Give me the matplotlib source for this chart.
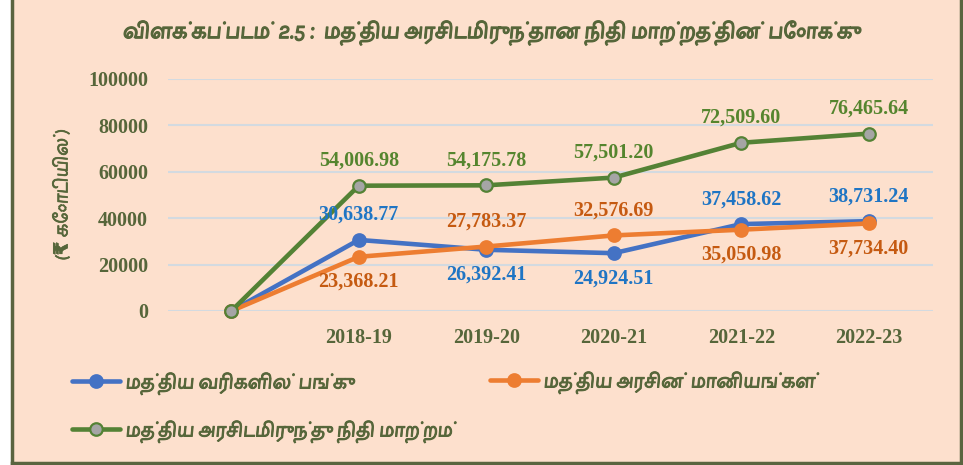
import matplotlib
matplotlib.use("Agg")
import matplotlib.pyplot as plt
from matplotlib import font_manager as fm
from matplotlib import patheffects as pe
from matplotlib.ft2font import FT2Font
from matplotlib.lines import Line2D

categories = ["", "2018-19", "2019-20", "2020-21", "2021-22", "2022-23"]
tax_share = [0, 30638.77, 26392.41, 24924.51, 37458.62, 38731.24]
grants = [0, 23368.21, 27783.37, 32576.69, 35050.98, 37734.40]
transfers = [0, 54006.98, 54175.78, 57501.20, 72509.60, 76465.64]
tax_pos = [None, "above", "below", "below", "above", "above"]
grant_pos = [None, "below", "above", "above", "below", "below"]
transfer_pos = [None, "above", "above", "above", "above", "above"]
yticks = [0, 20000, 40000, 60000, 80000, 100000]

title = "விளக்கப்படம் 2.5 :  மத்திய அரசிடமிருந்தான நிதி மாற்றத்தின் போக்கு"
ylabel = "(₹ கோடியில்)"
lab_tax = "மத்திய வரிகளில் பங்கு"
lab_grant = "மத்திய அரசின் மானியங்கள்"
lab_transfer = "மத்திய அரசிடமிருந்து நிதி மாற்றம்"


def find_tamil_font():
    cands = {}
    for f in fm.fontManager.ttflist:
        try:
            if ord("த") not in FT2Font(f.fname).get_charmap():
                continue
        except Exception:
            continue
        info = cands.setdefault(f.name, {"bold": False})
        if f.weight in ("bold", "heavy") or (isinstance(f.weight, int) and f.weight >= 600):
            info["bold"] = True
    best, best_score = None, -1e9
    for name, info in cands.items():
        score = 0
        if "Tamil" in name:
            score += 10
        if "Mono" in name or "Code" in name:
            score -= 20
        if "Sans" in name:
            score += 2
        if info["bold"]:
            score += 3
        if score > best_score:
            best, best_score = name, score
    return best


tamil = find_tamil_font()
fam = ([tamil] if tamil else []) + ["DejaVu Sans"]
serif = ["Liberation Serif", "DejaVu Serif"]

BG = "#FDE0CD"
OLIVE = "#56663A"
BLUE = "#4472C4"
ORANGE = "#ED7D31"
GREEN = "#548235"
GREY = "#A5A5A5"

fig = plt.figure(figsize=(9.63, 4.65), dpi=100, facecolor="white")
W, H = 963, 465
bg = plt.Rectangle((11 / W, 0), (961 - 11) / W, 1.0, transform=fig.transFigure,
                   facecolor=BG, edgecolor="none", zorder=-10)
fig.patches.append(bg)
for xs, ys in [([11.5 / W, 11.5 / W], [0, 1]), ([961 / W, 961 / W], [0, 1]),
               ([11.5 / W, 961 / W], [2.5 / H, 2.5 / H])]:
    fig.lines.append(Line2D(xs, ys, transform=fig.transFigure, color="#5A6440", lw=2.5))

ax = fig.add_axes([167.5 / W, 1 - 311 / H, (932.5 - 167.5) / W, (311 - 79) / H])
ax.set_facecolor("none")
x = list(range(len(categories)))

series = [
    (tax_share, BLUE, BLUE, BLUE, "#1F75C4", tax_pos, lab_tax, 3),
    (grants, ORANGE, ORANGE, ORANGE, "#C55A11", grant_pos, lab_grant, 4),
    (transfers, GREEN, GREY, GREEN, "#55852E", transfer_pos, lab_transfer, 5),
]
handles = []
for vals, lc, mfc, mec, tc, pos, lab, z in series:
    ln, = ax.plot(x, vals, color=lc, lw=3.3, marker="o", ms=9, mfc=mfc, mec=mec,
                  mew=1.6, zorder=z, clip_on=False, label=lab, solid_capstyle="round")
    handles.append(ln)
    for xi, v, p in zip(x, vals, pos):
        if p is None:
            continue
        off = 25 if p == "above" else -25
        ax.annotate(f"{v:,.2f}", (xi, v), xytext=(0, off), textcoords="offset pixels",
                    ha="center", va="center", color=tc, fontsize=14.5,
                    fontweight="bold", family=serif, zorder=10)

ax.set_xlim(-0.5, 5.5)
ax.set_ylim(0, 100000)
ax.set_yticks(yticks)
ax.set_yticklabels([str(t) for t in yticks])
ax.set_xticks(x)
ax.set_xticklabels(categories)
ax.tick_params(length=0, labelcolor=OLIVE)
ax.tick_params(axis="y", pad=14)
ax.tick_params(axis="x", pad=12)
for lbl in ax.get_xticklabels() + ax.get_yticklabels():
    lbl.set_fontfamily(serif)
    lbl.set_fontweight("bold")
    lbl.set_fontsize(14.5)
for s in ax.spines.values():
    s.set_visible(False)
ax.grid(axis="y", color="#D3DAE0", lw=1.5, zorder=0)
ax.set_axisbelow(True)

fig.text(492 / W, 1 - 33 / H, title, ha="center", va="center", fontsize=16,
         fontweight="bold", color=OLIVE, family=fam,
         path_effects=[pe.withStroke(linewidth=0.9, foreground=OLIVE)])
fig.text(62 / W, 1 - 195 / H, ylabel, ha="center", va="center", rotation=90,
         fontsize=14, fontweight="bold", color=OLIVE, family=fam,
         path_effects=[pe.withStroke(linewidth=0.5, foreground=OLIVE)])

leg_kw = dict(frameon=False, handlelength=2.4, handletextpad=0.25, labelspacing=1.3,
              prop={"family": fam, "size": 14.5, "weight": "bold"}, labelcolor=OLIVE,
              loc="center left", borderaxespad=0, borderpad=0)
l1 = fig.legend([handles[0], handles[2]], [lab_tax, lab_transfer],
                bbox_to_anchor=(72 / W, 1 - 408 / H), **leg_kw)
l2 = fig.legend([handles[1]], [lab_grant], bbox_to_anchor=(490 / W, 1 - 383 / H), **leg_kw)
for leg in (l1, l2):
    for t in leg.get_texts():
        t.set_path_effects([pe.withStroke(linewidth=0.7, foreground=OLIVE)])

fig.savefig("out.png", dpi=100, facecolor="white")
